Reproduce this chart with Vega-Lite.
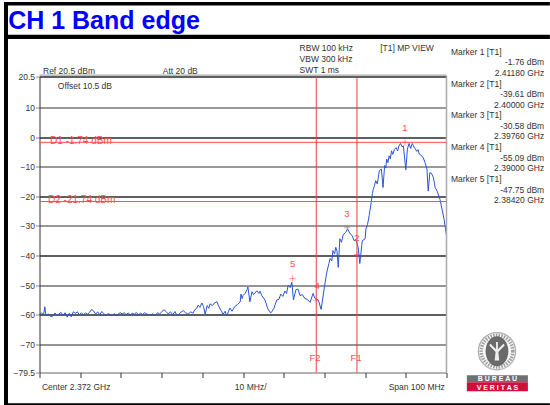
{"$schema":"https://vega.github.io/schema/vega-lite/v6.json","width":407,"height":296,"autosize":{"type":"none"},"padding":{"left":39.5,"top":76.5,"right":103.5,"bottom":32.5},"background":"white","view":{"stroke":null},"config":{"font":"Liberation Sans","text":{"font":"Liberation Sans"}},
"resolve":{"axis":{"x":"independent","y":"independent"}},
"data":{"values":[{"row":1}]},
"datasets":{"trace":[{"f":2322,"d":-60},{"f":2322.5,"d":-59.3},{"f":2323,"d":-60},{"f":2323.3,"d":-57.3},{"f":2323.6,"d":-60.3},{"f":2324.2,"d":-59.8},{"f":2324.8,"d":-60.6},{"f":2325.3,"d":-60.4},{"f":2325.8,"d":-59.4},{"f":2326.3,"d":-60.2},{"f":2326.8,"d":-59.7},{"f":2327.3,"d":-59.2},{"f":2327.8,"d":-60.3},{"f":2328.3,"d":-59.3},{"f":2328.8,"d":-60.8},{"f":2329.3,"d":-59.5},{"f":2329.8,"d":-60.7},{"f":2330.3,"d":-59},{"f":2330.8,"d":-59.5},{"f":2331.3,"d":-59},{"f":2331.8,"d":-60},{"f":2332.3,"d":-59.3},{"f":2332.8,"d":-60},{"f":2333.3,"d":-59.4},{"f":2333.8,"d":-59.8},{"f":2334.3,"d":-59.2},{"f":2334.8,"d":-58.2},{"f":2335.3,"d":-58.7},{"f":2335.8,"d":-59.8},{"f":2336.3,"d":-59},{"f":2336.8,"d":-60},{"f":2337.3,"d":-58.9},{"f":2337.8,"d":-59.6},{"f":2338.3,"d":-60.3},{"f":2338.8,"d":-59.6},{"f":2339.3,"d":-59.9},{"f":2339.8,"d":-60.4},{"f":2340.3,"d":-59.6},{"f":2340.8,"d":-60.2},{"f":2341.3,"d":-59.8},{"f":2341.8,"d":-59.3},{"f":2342.3,"d":-59.7},{"f":2342.8,"d":-59.3},{"f":2343.3,"d":-59.9},{"f":2343.8,"d":-59.4},{"f":2344.3,"d":-60},{"f":2344.8,"d":-59.5},{"f":2345.3,"d":-59.8},{"f":2345.8,"d":-59.2},{"f":2346.3,"d":-60.1},{"f":2346.8,"d":-59.4},{"f":2347.3,"d":-59.9},{"f":2347.8,"d":-59.3},{"f":2348.3,"d":-59.7},{"f":2348.8,"d":-59.9},{"f":2349.3,"d":-60.3},{"f":2349.8,"d":-59.6},{"f":2350.4,"d":-60.4},{"f":2351,"d":-59.3},{"f":2351.5,"d":-59.7},{"f":2352.1,"d":-58.9},{"f":2352.6,"d":-58.3},{"f":2353.1,"d":-58.9},{"f":2353.6,"d":-59.7},{"f":2354.2,"d":-59},{"f":2354.7,"d":-60},{"f":2355.3,"d":-58.9},{"f":2355.6,"d":-59.8},{"f":2356,"d":-60.2},{"f":2356.6,"d":-59.3},{"f":2357.3,"d":-58.6},{"f":2357.9,"d":-59.3},{"f":2358.5,"d":-59.8},{"f":2359.2,"d":-59},{"f":2359.7,"d":-59.5},{"f":2360.2,"d":-58.2},{"f":2360.6,"d":-57.8},{"f":2361,"d":-56.7},{"f":2361.4,"d":-57.5},{"f":2361.9,"d":-56},{"f":2362.3,"d":-57.2},{"f":2362.7,"d":-59.8},{"f":2363.2,"d":-56.9},{"f":2363.6,"d":-57.8},{"f":2363.9,"d":-56.3},{"f":2364.5,"d":-56.9},{"f":2365,"d":-56},{"f":2365.6,"d":-55.6},{"f":2366,"d":-57},{"f":2366.4,"d":-58.1},{"f":2366.8,"d":-59},{"f":2367.1,"d":-59.9},{"f":2367.6,"d":-58.8},{"f":2368,"d":-60.4},{"f":2368.4,"d":-59},{"f":2368.8,"d":-57.7},{"f":2369.3,"d":-58.8},{"f":2370,"d":-57.2},{"f":2370.6,"d":-56.6},{"f":2371.3,"d":-55.7},{"f":2371.5,"d":-53},{"f":2371.8,"d":-54.5},{"f":2372,"d":-53.5},{"f":2372.5,"d":-52.8},{"f":2373,"d":-51.5},{"f":2373.2,"d":-50.6},{"f":2373.7,"d":-55.6},{"f":2374.2,"d":-52.2},{"f":2374.6,"d":-53.2},{"f":2375.4,"d":-51.9},{"f":2375.9,"d":-52.8},{"f":2376.2,"d":-52},{"f":2376.6,"d":-53.5},{"f":2377.4,"d":-55},{"f":2378.1,"d":-58},{"f":2378.8,"d":-59.4},{"f":2379.2,"d":-58.7},{"f":2379.6,"d":-57.8},{"f":2380.3,"d":-55},{"f":2380.8,"d":-54.8},{"f":2381.3,"d":-53},{"f":2381.8,"d":-53.8},{"f":2382.3,"d":-52},{"f":2382.7,"d":-52.8},{"f":2383.1,"d":-50},{"f":2383.6,"d":-50.8},{"f":2384,"d":-49},{"f":2384.4,"d":-55},{"f":2385,"d":-51.5},{"f":2385.5,"d":-51.3},{"f":2386,"d":-53.5},{"f":2386.6,"d":-53.2},{"f":2387.2,"d":-54.5},{"f":2387.8,"d":-54.8},{"f":2388.5,"d":-55.8},{"f":2389.2,"d":-52.8},{"f":2389.7,"d":-54.5},{"f":2390.5,"d":-55},{"f":2391.2,"d":-58.2},{"f":2392,"d":-50.6},{"f":2392.6,"d":-45.6},{"f":2393.1,"d":-42.7},{"f":2393.4,"d":-41},{"f":2393.8,"d":-41.8},{"f":2394.1,"d":-38.3},{"f":2394.5,"d":-39.5},{"f":2394.8,"d":-37.2},{"f":2395.1,"d":-38.6},{"f":2395.4,"d":-44},{"f":2395.8,"d":-34.3},{"f":2396.2,"d":-35.5},{"f":2396.6,"d":-33},{"f":2397.2,"d":-32.2},{"f":2397.7,"d":-31},{"f":2398.3,"d":-32.6},{"f":2398.8,"d":-33.2},{"f":2399.3,"d":-35},{"f":2399.7,"d":-34.5},{"f":2400.3,"d":-37.2},{"f":2400.7,"d":-42.7},{"f":2401.3,"d":-35},{"f":2402,"d":-34.3},{"f":2402.2,"d":-31},{"f":2402.6,"d":-29.5},{"f":2403,"d":-26.5},{"f":2403.5,"d":-22},{"f":2403.8,"d":-19},{"f":2404,"d":-17.6},{"f":2404.3,"d":-16.4},{"f":2404.6,"d":-14.7},{"f":2405,"d":-15.8},{"f":2405.5,"d":-11.3},{"f":2406,"d":-10.8},{"f":2406.4,"d":-17},{"f":2406.8,"d":-9.6},{"f":2407.1,"d":-10.4},{"f":2407.3,"d":-7.4},{"f":2407.6,"d":-8.6},{"f":2407.9,"d":-6.3},{"f":2408.2,"d":-7.3},{"f":2408.5,"d":-4.6},{"f":2408.8,"d":-5.8},{"f":2409.2,"d":-4.2},{"f":2409.6,"d":-3.5},{"f":2410,"d":-4.6},{"f":2410.3,"d":-3},{"f":2410.7,"d":-2.1},{"f":2411.1,"d":-3.3},{"f":2411.4,"d":-2.9},{"f":2412,"d":-11},{"f":2412.4,"d":-4},{"f":2412.8,"d":-2.1},{"f":2413.2,"d":-3.8},{"f":2413.6,"d":-2.1},{"f":2414,"d":-3.3},{"f":2414.3,"d":-3.9},{"f":2414.7,"d":-4.8},{"f":2415,"d":-4.2},{"f":2415.3,"d":-5.7},{"f":2415.9,"d":-6.3},{"f":2416.3,"d":-7},{"f":2416.7,"d":-8.5},{"f":2417.2,"d":-10.8},{"f":2417.5,"d":-18.2},{"f":2417.9,"d":-12},{"f":2418.3,"d":-12.2},{"f":2418.8,"d":-13.7},{"f":2419.2,"d":-17},{"f":2419.7,"d":-18.2},{"f":2420.4,"d":-21},{"f":2421,"d":-25},{"f":2421.4,"d":-27.7},{"f":2422,"d":-33.3}],
"markers":[{"f":2411.8,"d":-1.76},{"f":2400,"d":-39.61},{"f":2397.6,"d":-30.58},{"f":2390,"d":-55.09},{"f":2384.2,"d":-47.75}],
"darkText":[{"f":2322.86,"d":21.4,"t":"Ref 20.5 dBm"},{"f":2352.3,"d":21.4,"t":"Att  20 dB"},{"f":2326.5,"d":16.4,"t":"Offset 10.5 dB"},{"f":2385.9,"d":29.2,"t":"RBW 100 kHz"},{"f":2385.9,"d":25.5,"t":"VBW 300 kHz"},{"f":2385.9,"d":21.8,"t":"SWT 1 ms"},{"f":2405.7,"d":29.2,"t":"[T1] MP VIEW"},{"f":2423.1,"d":27.7,"t":"Marker 1 [T1]"},{"f":2423.1,"d":17,"t":"Marker 2 [T1]"},{"f":2423.1,"d":6.4,"t":"Marker 3 [T1]"},{"f":2423.1,"d":-4.2,"t":"Marker 4 [T1]"},{"f":2423.1,"d":-15,"t":"Marker 5 [T1]"},{"f":2322.6,"d":-85.5,"t":"Center 2.372 GHz"},{"f":2370,"d":-85.5,"t":"10 MHz/"}],
"rightText":[{"f":2446,"d":24.3,"t":"-1.76 dBm"},{"f":2446,"d":20.7,"t":"2.41180 GHz"},{"f":2446,"d":13.5,"t":"-39.61 dBm"},{"f":2446,"d":10,"t":"2.40000 GHz"},{"f":2446,"d":2.9,"t":"-30.58 dBm"},{"f":2446,"d":-0.7,"t":"2.39760 GHz"},{"f":2446,"d":-7.9,"t":"-55.09 dBm"},{"f":2446,"d":-11.5,"t":"2.39000 GHz"},{"f":2446,"d":-18.7,"t":"-47.75 dBm"},{"f":2446,"d":-22.3,"t":"2.38420 GHz"},{"f":2421.6,"d":-85.5,"t":"Span 100 MHz"}],
"redText":[{"f":2324.6,"d":-2.2,"t":"D1 -1.74 dBm"},{"f":2324.1,"d":-22.1,"t":"D2 -21.74 dBm"}],
"redCentered":[{"f":2411.8,"d":2.2,"t":"1"},{"f":2400,"d":-35.2,"t":"2"},{"f":2397.5,"d":-26.8,"t":"3"},{"f":2390.2,"d":-51.4,"t":"4"},{"f":2384.2,"d":-43.7,"t":"5"},{"f":2399.8,"d":-75.7,"t":"F1"},{"f":2389.7,"d":-75.7,"t":"F2"}]},
"layer":[
{"data":{"name":"trace"},"mark":{"type":"line","stroke":"#2a55d8","strokeWidth":1,"interpolate":"linear"},"encoding":{"x":{"field":"f","type":"quantitative","scale":{"domain":[2322,2422],"nice":false,"zero":false},"axis":{"title":null,"values":[2322,2332,2342,2352,2362,2372,2382,2392,2402,2412,2422],"labels":false,"domain":false,"grid":false,"ticks":true,"tickColor":"#333","tickSize":5}},"y":{"field":"d","type":"quantitative","scale":{"domain":[-79.5,20.5],"nice":false,"zero":false},"axis":{"title":null,"values":[20.5,10,0,-10,-20,-30,-40,-50,-60,-70,-79.5],"format":".1~f","domain":true,"domainColor":"#333","domainWidth":1,"labelColor":"#333","labelFontSize":8.5,"labelFont":"Liberation Sans","labelPadding":1,"labelOverlap":false,"tickColor":"#888","tickSize":4,"grid":true,"gridColor":{"condition":[{"test":"indexof([10,-10,-30,-79.5],datum.value)>=0","value":"#999999"},{"test":"indexof([-50,-70],datum.value)>=0","value":"#707070"}],"value":"#2a2a2a"},"gridWidth":{"condition":{"test":"indexof([10,-10,-30],datum.value)>=0","value":2},"value":1.4}}}}},
{"mark":{"type":"rule","stroke":"#aaaaaa","strokeWidth":1.2},"encoding":{"x":{"datum":2322,"type":"quantitative","axis":null},"x2":{"datum":2422},"y":{"datum":20.95,"type":"quantitative","axis":null}}},
{"mark":{"type":"rule","stroke":"#aaaaaa","strokeWidth":1.5},"encoding":{"x":{"datum":2422,"type":"quantitative","axis":null},"y":{"datum":20.5,"type":"quantitative","axis":null},"y2":{"datum":-79.5}}},
{"mark":{"type":"rule","stroke":"#ff4d4d","strokeWidth":1},"encoding":{"x":{"datum":2322,"type":"quantitative","axis":null},"x2":{"datum":2422},"y":{"datum":-1.74,"type":"quantitative","axis":null}}},
{"mark":{"type":"rule","stroke":"#ff4d4d","strokeWidth":1},"encoding":{"x":{"datum":2322,"type":"quantitative","axis":null},"x2":{"datum":2422},"y":{"datum":-21.74,"type":"quantitative","axis":null}}},
{"mark":{"type":"rule","stroke":"#f53c3c","strokeWidth":1},"encoding":{"x":{"datum":2400,"type":"quantitative","axis":null},"y":{"datum":20.5,"type":"quantitative","axis":null},"y2":{"datum":-79.5}}},
{"mark":{"type":"rule","stroke":"#f53c3c","strokeWidth":1},"encoding":{"x":{"datum":2390,"type":"quantitative","axis":null},"y":{"datum":20.5,"type":"quantitative","axis":null},"y2":{"datum":-79.5}}},
{"data":{"name":"markers"},"mark":{"type":"point","shape":"M-1,0H1M0,-1V1","size":36,"stroke":"#ff4d4d","strokeWidth":0.8,"fill":null},"encoding":{"x":{"field":"f","type":"quantitative","axis":null},"y":{"field":"d","type":"quantitative","axis":null}}},
{"data":{"name":"darkText"},"mark":{"type":"text","align":"left","baseline":"alphabetic","fontSize":8.5,"fill":"#333333"},"encoding":{"x":{"field":"f","type":"quantitative","axis":null},"y":{"field":"d","type":"quantitative","axis":null},"text":{"field":"t"}}},
{"data":{"name":"rightText"},"mark":{"type":"text","align":"right","baseline":"alphabetic","fontSize":8.5,"fill":"#333333"},"encoding":{"x":{"field":"f","type":"quantitative","axis":null},"y":{"field":"d","type":"quantitative","axis":null},"text":{"field":"t"}}},
{"data":{"name":"redText"},"mark":{"type":"text","align":"left","baseline":"alphabetic","fontSize":10,"fill":"#ff4d4d"},"encoding":{"x":{"field":"f","type":"quantitative","axis":null},"y":{"field":"d","type":"quantitative","axis":null},"text":{"field":"t"}}},
{"data":{"name":"redCentered"},"mark":{"type":"text","align":"center","baseline":"alphabetic","fontSize":9.5,"fill":"#ff4d4d"},"encoding":{"x":{"field":"f","type":"quantitative","axis":null},"y":{"field":"d","type":"quantitative","axis":null},"text":{"field":"t"}}},
{"mark":{"type":"rect","fill":"#000000"},"encoding":{"x":{"datum":2313.28,"type":"quantitative","axis":null},"x2":{"datum":2447.4},"y":{"datum":45.7,"type":"quantitative","axis":null},"y2":{"datum":44.45}}},
{"mark":{"type":"rect","fill":"#000000"},"encoding":{"x":{"datum":2313.28,"type":"quantitative","axis":null},"x2":{"datum":2447.4},"y":{"datum":34.57,"type":"quantitative","axis":null},"y2":{"datum":33.2}}},
{"mark":{"type":"rect","fill":"#000000"},"encoding":{"x":{"datum":2313.28,"type":"quantitative","axis":null},"x2":{"datum":2447.4},"y":{"datum":-89.9,"type":"quantitative","axis":null},"y2":{"datum":-90.6}}},
{"mark":{"type":"rect","fill":"#000000"},"encoding":{"x":{"datum":2313.28,"type":"quantitative","axis":null},"x2":{"datum":2314.26},"y":{"datum":45.7,"type":"quantitative","axis":null},"y2":{"datum":-90.6}}},
{"mark":{"type":"text","text":"CH 1 Band edge","align":"left","baseline":"alphabetic","fontSize":25,"fontWeight":"bold","fill":"#0000ff"},"encoding":{"x":{"datum":2314.3,"type":"quantitative","axis":null},"y":{"datum":36.6,"type":"quantitative","axis":null}}},
{"mark":{"type":"point","shape":"circle","size":1385,"filled":false,"stroke":"#8a8a8a","strokeWidth":1.2,"fill":"#f4f4f4"},"encoding":{"x":{"datum":2434.4,"type":"quantitative","axis":null},"y":{"datum":-72.3,"type":"quantitative","axis":null}}},
{"mark":{"type":"point","shape":"circle","size":1000,"filled":false,"stroke":"#777777","strokeWidth":3.5,"strokeDash":[1.5,1.2],"fill":null},"encoding":{"x":{"datum":2434.4,"type":"quantitative","axis":null},"y":{"datum":-72.3,"type":"quantitative","axis":null}}},
{"mark":{"type":"point","shape":"M-0.76,0A0.76,1,0,1,1,0.76,0A0.76,1,0,1,1,-0.76,0Z","size":900,"filled":true,"fill":"#6a6a6a","stroke":null,"opacity":1},"encoding":{"x":{"datum":2434.4,"type":"quantitative","axis":null},"y":{"datum":-72.3,"type":"quantitative","axis":null}}},
{"mark":{"type":"point","shape":"M-0.1,-1L0.1,-1L0.1,-0.2L0.7,-0.8L0.85,-0.65L0.15,0.1L0.25,1L-0.25,1L-0.15,0.1L-0.85,-0.65L-0.7,-0.8L-0.1,-0.2Z","size":340,"filled":true,"fill":"#eeeeee","stroke":null,"opacity":1},"encoding":{"x":{"datum":2434.4,"type":"quantitative","axis":null},"y":{"datum":-72.3,"type":"quantitative","axis":null}}},
{"mark":{"type":"rect","fill":"#707070"},"encoding":{"x":{"datum":2427,"type":"quantitative","axis":null},"x2":{"datum":2442},"y":{"datum":-80.4,"type":"quantitative","axis":null},"y2":{"datum":-82.8}}},
{"mark":{"type":"rect","fill":"#d0103a"},"encoding":{"x":{"datum":2427,"type":"quantitative","axis":null},"x2":{"datum":2442},"y":{"datum":-82.8,"type":"quantitative","axis":null},"y2":{"datum":-85.8}}},
{"mark":{"type":"text","text":"B U R E A U","align":"center","baseline":"alphabetic","fontSize":7,"fontWeight":"bold","fill":"#ffffff"},"encoding":{"x":{"datum":2434.5,"type":"quantitative","axis":null},"y":{"datum":-82.4,"type":"quantitative","axis":null}}},
{"mark":{"type":"text","text":"V E R I T A S","align":"center","baseline":"alphabetic","fontSize":7,"fontWeight":"bold","fill":"#ffffff"},"encoding":{"x":{"datum":2434.5,"type":"quantitative","axis":null},"y":{"datum":-85.3,"type":"quantitative","axis":null}}}
]}
